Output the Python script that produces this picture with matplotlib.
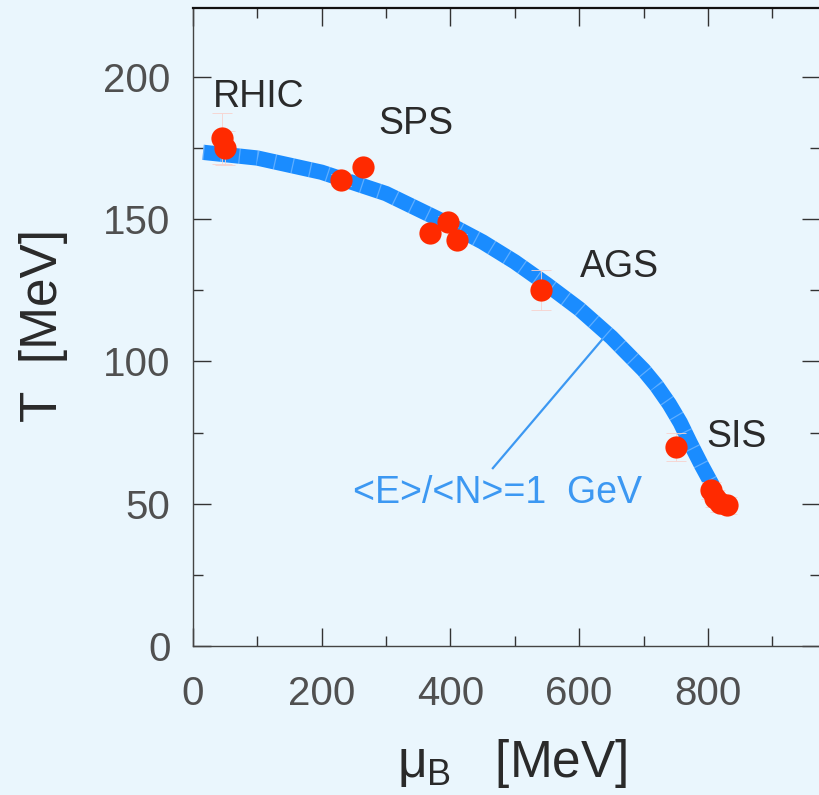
import matplotlib
matplotlib.use("Agg")
import matplotlib.pyplot as plt
from matplotlib.ticker import MultipleLocator

# ---------------------------------------------------------
# data
# ---------------------------------------------------------
# freeze-out points (mu_B, T) with rough vertical errors
mu_b = [45, 50, 231, 265, 368, 397, 410, 540, 750, 804, 811, 819, 830]
temp = [178.4, 174.9, 163.7, 168.2, 145.0, 149.1, 142.7, 125.1, 70.0, 54.7, 52.0, 50.2, 49.5]
temp_err = [9, 6, 2, 2, 2, 2, 2, 7, 5, 3, 3, 3, 3]

# <E>/<N> = 1 GeV curve
curve_mu = [16, 100, 200, 300, 400, 450, 500, 550, 600, 650, 700, 720, 740, 757, 772, 790, 808]
curve_t = [173.5, 171.5, 166.5, 159.0, 148.0, 142.0, 135.0, 127.0, 118.5, 108.5, 97.0, 91.5, 85.0, 78.5, 71.5, 63.5, 56.0]

# accelerator labels (text, mu_B, T at baseline)
acc_names = ["RHIC", "SPS", "AGS", "SIS"]
acc_mu = [32, 288, 601, 798]
acc_t = [189.4, 179.9, 129.7, 70.0]

curve_label = "<E>/<N>=1  GeV"
curve_label_pos = (249, 50.4)
leader_mu = [466, 635]
leader_t = [62.5, 107.5]

xticks = [0, 200, 400, 600, 800]
yticks = [0, 50, 100, 150, 200]

# ---------------------------------------------------------
# style
# ---------------------------------------------------------
plt.rcParams['font.family'] = ['Liberation Sans', 'DejaVu Sans']
plt.rcParams['mathtext.fontset'] = 'custom'
plt.rcParams['mathtext.rm'] = 'Liberation Sans'
plt.rcParams['mathtext.it'] = 'Liberation Sans'
plt.rcParams['mathtext.bf'] = 'Liberation Sans:bold'

bg = '#eaf6fd'
blue = '#1a8cff'
text_blue = '#3c98f2'
red = '#ff2a00'

fig = plt.figure(figsize=(8.19, 7.95), dpi=100, facecolor=bg)
ax = fig.add_axes([0.2353, 0.1874, 0.766, 0.8025], facecolor=bg)

# curve: thick band with faint stripes
ax.plot(curve_mu, curve_t, color=blue, lw=11, solid_capstyle='butt',
        solid_joinstyle='round', zorder=2)
ax.plot(curve_mu, curve_t, color='white', alpha=0.3, lw=11,
        dashes=(0.08, 1.1), dash_capstyle='butt', zorder=2)

# points with faint error bars
ax.errorbar(mu_b, temp, yerr=temp_err, fmt='none', ecolor='#f8d2cd',
            elinewidth=0.6, capsize=7, capthick=0.6, zorder=3)
ax.plot(mu_b, temp, 'o', color=red, markersize=16, markeredgewidth=0, zorder=4)

for name, xm, ym in zip(acc_names, acc_mu, acc_t):
    ax.text(xm, ym, name, fontsize=27, color='#2a2a2a', ha='left', va='baseline')

ax.text(curve_label_pos[0], curve_label_pos[1], curve_label, fontsize=27,
        color=text_blue, ha='left', va='baseline')
ax.plot(leader_mu, leader_t, color=text_blue, lw=1.6, zorder=2)

ax.set_xlim(0, 974)
ax.set_ylim(0, 224.2)
ax.set_xticks(xticks)
ax.set_yticks(yticks)
ax.xaxis.set_minor_locator(MultipleLocator(100))
ax.yaxis.set_minor_locator(MultipleLocator(25))

ax.tick_params(which='both', direction='in', top=True, right=True,
               colors='#333333', width=1.0)
ax.tick_params(which='major', length=13, labelsize=29, labelcolor='#505050')
ax.tick_params(which='minor', length=7.5)
ax.tick_params(axis='x', which='major', pad=21)
ax.tick_params(axis='y', which='major', pad=16)

for side in ['left', 'bottom', 'right']:
    ax.spines[side].set_color('#444444')
    ax.spines[side].set_linewidth(1.0)
ax.spines['top'].set_color('#111111')
ax.spines['top'].set_linewidth(1.6)

# axis labels
fig.text(44 / 819, 1 - 325.5 / 795, "T  [MeV]", fontsize=37, color='#2a2a2a',
         rotation=90, ha='center', va='center')
fig.text(397 / 819, 1 - 777 / 795, r"$\mu_{B}$   [MeV]", fontsize=37,
         color='#2a2a2a', ha='left', va='baseline')

fig.savefig('out.png', dpi=100, facecolor=bg)
